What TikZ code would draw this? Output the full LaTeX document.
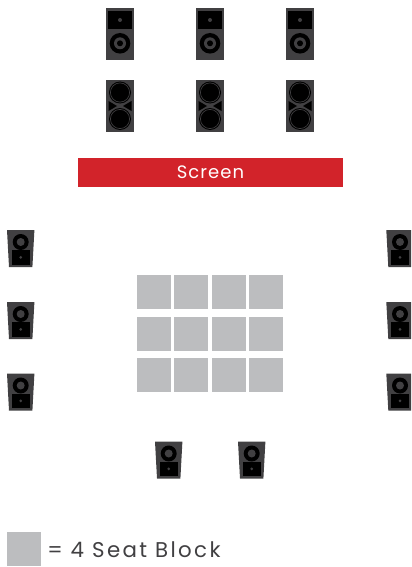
\documentclass[tikz,border=0pt]{standalone}
\usepackage{fontspec}
\setmainfont[LetterSpace=6]{Poppins}
\newfontfamily\legendfont[LetterSpace=11]{Poppins}
\definecolor{cabinet}{HTML}{414042}
\definecolor{screenred}{HTML}{D2232A}
\definecolor{seat}{HTML}{BCBDBF}
\tikzset{
  seatblock/.style={fill=seat,draw=none},
  cab/.style={fill=cabinet,draw=none},
  blk/.style={fill=black,draw=none},
  gry/.style={fill=cabinet,draw=none},
  ringline/.style={draw=cabinet,line width=0.5pt,fill=black},
  frontspk/.pic={
    \fill[cab] (-14,-26) rectangle (14,26);
    \fill[blk] (-11.7,-23) rectangle (12,-5);
    \fill[gry] (0,-14) circle (2);
    \fill[blk] (0,9.3) circle (10.3);
    \fill[gry] (0,9.3) circle (6);
    \fill[blk] (0,9.3) circle (3);
  },
  lowspk/.pic={
    \fill[cab] (-14,-26) rectangle (14,26);
    \fill[blk] (-11.5,-5) -- (-3,0) -- (-11.5,5) -- cycle;
    \fill[blk] (11.5,-5) -- (3,0) -- (11.5,5) -- cycle;
    \fill[blk] (0,-13.5) circle (11);
    \fill[blk] (0,13) circle (11);
    \draw[ringline] (0,-13.5) circle (9.6);
    \draw[ringline] (0,13) circle (9.6);
  },
  sidespk/.pic={
    \fill[cab] (-13.7,-18.5) -- (13.7,-18.5) -- (11.7,18.5) -- (-11.7,18.5) -- cycle;
    \fill[blk] (0,-6.5) circle (8);
    \fill[gry] (0,-6.5) circle (4);
    \fill[blk] (-9,1.5) rectangle (9,16);
    \fill[gry] (0,8.8) circle (1.5);
  }
}
\begin{document}
\begin{tikzpicture}[x=0.75pt,y=-0.75pt]
\useasboundingbox (0,0) rectangle (411,567);
\clip (0,0) rectangle (411,567);
% front speakers
\foreach \cx in {120,210,300}{
  \pic at (\cx,34) {frontspk};
  \pic at (\cx,106) {lowspk};
}
% screen
\node[fill=screenred,minimum width=198.75pt,minimum height=21.4pt,inner sep=0pt,
  text=white,font=\fontsize{13.5}{15}\selectfont] (screen) at (210.5,172.5) {\raisebox{-0.7pt}{Screen}};
% side speakers
\foreach \cy in {248.5,320.5,392}{
  \pic at (20.7,\cy) {sidespk};
  \pic at (400,\cy) {sidespk};
}
% rear speakers
\pic at (168.7,460) {sidespk};
\pic at (251.7,460) {sidespk};
% seat blocks
\foreach \ry in {275,317,358}{
  \foreach \rx in {137,174,212,249}{
    \fill[seatblock] (\rx,\ry) rectangle ++(34,34);
  }
}
% legend
\fill[seatblock] (7,532) rectangle (41,566);
\node[anchor=west,inner sep=0pt,text=cabinet,font=\legendfont\fontsize{16}{18}\selectfont] (legend) at (47,550) {= 4 Seat Block};
\end{tikzpicture}
\end{document}
